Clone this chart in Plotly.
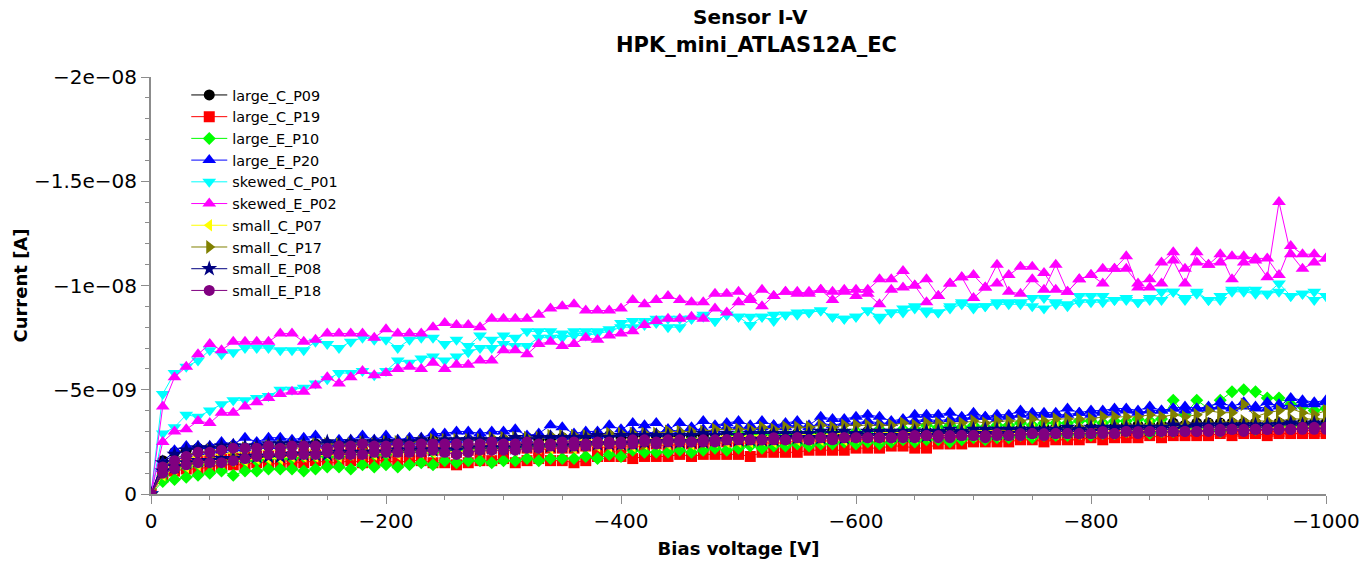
import plotly.graph_objects as go

# Bias voltage grid (V), ramp from 0 to -1000 V in 10 V steps
volts = [-10 * i for i in range(101)]

# Leakage current magnitudes in units of 1e-10 A, on the voltage grid.
# "_up" = ramp towards -1000 V, "_down" = ramp back to 0 V (same grid order).
large_C_P09_up = [0, 16, 20, 21, 22, 22, 22, 23, 22, 23, 23,
                  23, 24, 23, 24, 24, 23, 24, 24, 25, 25,
                  24, 25, 25, 26, 25, 25, 26, 26, 25, 26,
                  26, 27, 26, 26, 27, 26, 27, 27, 28, 27,
                  27, 28, 28, 27, 28, 28, 28, 29, 28, 28,
                  28, 29, 29, 28, 29, 29, 29, 30, 29, 29,
                  30, 30, 29, 30, 30, 30, 31, 30, 31, 31,
                  31, 31, 32, 31, 31, 32, 32, 32, 31, 32,
                  32, 32, 33, 32, 33, 33, 34, 33, 34, 34,
                  34, 33, 34, 34, 33, 34, 34, 34, 33, 34]
large_C_P09_down = [0, 11, 13, 14, 15, 15, 16, 17, 17, 17, 18,
                    18, 19, 19, 18, 19, 20, 20, 21, 20, 21,
                    21, 21, 22, 22, 21, 22, 22, 23, 23, 23,
                    23, 24, 23, 24, 24, 24, 25, 24, 25, 25,
                    25, 26, 25, 26, 26, 26, 27, 26, 26, 27,
                    27, 27, 28, 27, 28, 28, 28, 28, 29, 28,
                    29, 29, 29, 30, 29, 29, 30, 30, 30, 30,
                    30, 31, 31, 30, 31, 31, 31, 32, 31, 32,
                    32, 32, 32, 33, 32, 32, 33, 33, 33, 33,
                    33, 34, 33, 33, 33, 34, 33, 33, 34, 33]

large_C_P19_up = [0, 8, 11, 12, 12, 13, 14, 14, 14, 15, 15,
                  14, 15, 15, 16, 15, 15, 16, 15, 16, 16,
                  15, 16, 16, 15, 15, 14, 15, 16, 16, 17,
                  15, 16, 17, 16, 16, 15, 16, 18, 18, 18,
                  17, 18, 18, 18, 19, 18, 19, 19, 19, 19,
                  18, 20, 20, 20, 20, 21, 21, 21, 21, 22,
                  22, 22, 23, 23, 22, 22, 24, 24, 24, 25,
                  25, 25, 25, 26, 26, 25, 26, 26, 26, 27,
                  26, 27, 27, 27, 28, 27, 28, 28, 28, 28,
                  29, 28, 29, 29, 28, 29, 29, 29, 29, 29]
large_C_P19_down = [0, 10, 13, 15, 16, 16, 17, 17, 18, 18, 18,
                    19, 18, 19, 19, 20, 19, 20, 20, 19, 20,
                    20, 21, 20, 21, 21, 20, 21, 21, 22, 21,
                    22, 22, 21, 22, 22, 22, 23, 23, 22, 23,
                    23, 23, 24, 23, 24, 24, 24, 24, 25, 24,
                    25, 25, 24, 25, 25, 26, 25, 26, 26, 26,
                    26, 27, 26, 27, 27, 26, 27, 27, 27, 28,
                    27, 28, 28, 28, 28, 28, 28, 29, 28, 29,
                    29, 29, 29, 29, 30, 29, 30, 30, 30, 30,
                    30, 30, 30, 31, 30, 30, 31, 31, 30, 30]

large_E_P10_up = [0, 6, 7, 8, 9, 10, 11, 9, 11, 11, 12,
                  12, 12, 11, 12, 13, 13, 12, 14, 13, 14,
                  13, 14, 15, 14, 16, 15, 16, 16, 15, 16,
                  16, 17, 16, 17, 17, 17, 18, 17, 19, 18,
                  21, 20, 20, 20, 21, 20, 21, 22, 21, 22,
                  23, 22, 23, 23, 24, 23, 24, 24, 25, 24,
                  25, 24, 25, 26, 25, 26, 26, 25, 26, 27,
                  26, 27, 27, 28, 27, 28, 28, 28, 29, 28,
                  29, 29, 30, 30, 29, 30, 30, 32, 31, 31,
                  30, 32, 32, 31, 33, 32, 33, 32, 32, 33]
large_E_P10_down = [0, 9, 12, 13, 14, 15, 15, 16, 16, 16, 17,
                    17, 17, 18, 18, 18, 18, 19, 19, 19, 19,
                    20, 20, 20, 20, 21, 21, 21, 21, 22, 22,
                    22, 22, 23, 23, 23, 23, 24, 24, 24, 24,
                    25, 25, 25, 26, 26, 26, 26, 27, 27, 29,
                    28, 29, 28, 29, 29, 29, 30, 29, 30, 30,
                    30, 31, 30, 31, 31, 33, 32, 33, 32, 33,
                    32, 33, 33, 34, 33, 34, 34, 34, 35, 35,
                    34, 35, 35, 36, 35, 36, 45, 38, 45, 41,
                    45, 49, 50, 49, 46, 46, 43, 42, 40, 41]

large_E_P20_up = [0, 15, 21, 23, 23, 23, 25, 24, 27, 25, 27,
                  27, 26, 27, 28, 25, 26, 26, 28, 26, 28,
                  26, 27, 27, 29, 29, 30, 30, 29, 30, 30,
                  31, 28, 29, 33, 32, 29, 30, 30, 33, 31,
                  34, 33, 34, 31, 34, 32, 35, 33, 34, 35,
                  33, 35, 33, 34, 35, 33, 37, 36, 36, 37,
                  38, 37, 35, 36, 38, 38, 38, 39, 37, 39,
                  37, 38, 38, 40, 39, 39, 39, 41, 39, 40,
                  40, 41, 41, 40, 42, 40, 41, 42, 41, 42,
                  44, 42, 44, 41, 44, 42, 46, 45, 44, 45]
large_E_P20_down = [0, 12, 17, 19, 20, 20, 21, 22, 22, 23, 23,
                    23, 23, 24, 24, 23, 24, 24, 25, 24, 25,
                    25, 24, 25, 26, 26, 26, 27, 27, 26, 27,
                    27, 26, 28, 28, 27, 28, 29, 28, 29, 29,
                    30, 30, 29, 31, 30, 31, 31, 30, 32, 32,
                    31, 32, 33, 32, 33, 32, 34, 33, 34, 34,
                    35, 34, 34, 35, 35, 36, 35, 36, 36, 37,
                    37, 36, 37, 38, 37, 38, 38, 38, 39, 38,
                    39, 39, 40, 39, 40, 40, 41, 40, 41, 41,
                    42, 41, 42, 42, 41, 43, 42, 43, 43, 44]

skewed_C_P01_up = [0, 29, 32, 38, 37, 40, 43, 45, 45, 46, 47,
                   50, 50, 51, 53, 55, 58, 58, 59, 57, 59,
                   64, 63, 65, 66, 64, 66, 68, 70, 70, 72,
                   71, 71, 75, 75, 75, 76, 76, 77, 78, 80,
                   80, 81, 82, 80, 80, 84, 85, 83, 86, 85,
                   81, 85, 83, 86, 86, 87, 88, 85, 84, 85,
                   88, 85, 87, 87, 89, 88, 87, 89, 91, 89,
                   90, 91, 91, 91, 90, 89, 91, 90, 92, 92,
                   92, 93, 93, 92, 94, 93, 97, 94, 96, 93,
                   95, 97, 97, 96, 96, 97, 95, 96, 93, 95]
skewed_C_P01_down = [0, 48, 58, 61, 64, 69, 67, 68, 70, 70, 70,
                     69, 69, 69, 73, 72, 70, 73, 75, 74, 74,
                     70, 74, 75, 75, 72, 74, 71, 76, 74, 76,
                     75, 78, 78, 78, 77, 78, 78, 78, 79, 82,
                     83, 83, 84, 84, 84, 84, 86, 83, 86, 85,
                     85, 85, 86, 86, 87, 87, 88, 85, 84, 85,
                     88, 84, 87, 89, 90, 87, 87, 90, 92, 90,
                     90, 92, 92, 92, 94, 94, 92, 91, 95, 95,
                     95, 93, 94, 92, 93, 97, 97, 93, 97, 93,
                     93, 98, 98, 98, 96, 101, 95, 96, 97, 95]

skewed_E_P02_up = [0, 25, 30, 31, 35, 34, 39, 39, 42, 44, 46,
                   48, 49, 49, 52, 56, 53, 56, 59, 57, 58,
                   60, 61, 60, 63, 60, 62, 62, 64, 64, 69,
                   69, 67, 72, 73, 71, 72, 75, 74, 76, 77,
                   78, 81, 83, 84, 84, 85, 84, 89, 87, 92,
                   93, 90, 95, 97, 96, 97, 98, 93, 97, 95,
                   96, 91, 98, 99, 100, 92, 95, 101, 104, 94,
                   99, 110, 97, 96, 103, 98, 110, 97, 103, 105,
                   101, 108, 114, 99, 99, 101, 112, 101, 116, 110,
                   115, 103, 111, 112, 104, 140, 115, 108, 111, 113]
skewed_E_P02_down = [0, 42, 56, 61, 67, 72, 69, 73, 73, 73, 73,
                     77, 77, 73, 74, 77, 77, 77, 77, 75, 79,
                     77, 77, 77, 80, 82, 81, 81, 80, 84, 84,
                     84, 84, 86, 89, 90, 91, 88, 88, 88, 89,
                     93, 91, 93, 95, 93, 92, 92, 96, 96, 97,
                     94, 98, 95, 97, 97, 96, 98, 97, 98, 98,
                     98, 103, 103, 107, 100, 103, 95, 101, 104, 105,
                     99, 101, 105, 109, 109, 106, 98, 97, 103, 105,
                     108, 108, 108, 101, 103, 111, 116, 108, 111, 110,
                     111, 114, 114, 113, 113, 105, 119, 115, 115, 113]

small_C_P07_up = [0, 11, 15, 17, 18, 19, 19, 20, 20, 21, 21,
                  21, 22, 22, 21, 22, 22, 23, 23, 22, 23,
                  23, 23, 24, 23, 24, 24, 23, 24, 24, 25,
                  25, 24, 25, 25, 26, 25, 26, 26, 25, 26,
                  26, 27, 26, 27, 27, 26, 27, 27, 28, 27,
                  28, 28, 27, 28, 28, 29, 28, 29, 29, 28,
                  29, 29, 30, 29, 30, 30, 29, 30, 30, 31,
                  30, 31, 31, 30, 31, 31, 32, 31, 31, 32,
                  32, 31, 32, 32, 33, 32, 32, 33, 32, 33,
                  33, 32, 33, 33, 34, 33, 33, 34, 33, 33]
small_C_P07_down = [0, 9, 12, 13, 14, 15, 15, 16, 16, 17, 17,
                    17, 18, 18, 18, 19, 18, 19, 19, 19, 20,
                    19, 20, 20, 20, 21, 20, 21, 21, 21, 22,
                    21, 22, 22, 22, 23, 22, 23, 23, 23, 24,
                    23, 24, 24, 24, 25, 24, 25, 25, 25, 25,
                    25, 26, 25, 26, 26, 26, 26, 27, 26, 27,
                    27, 27, 27, 28, 27, 28, 28, 28, 28, 28,
                    29, 28, 29, 29, 29, 29, 29, 30, 29, 30,
                    30, 30, 30, 30, 31, 30, 31, 31, 31, 31,
                    31, 32, 31, 32, 32, 32, 32, 32, 33, 32]

small_C_P17_up = [0, 13, 17, 19, 20, 21, 21, 22, 22, 22, 23,
                  23, 23, 23, 24, 24, 24, 24, 25, 24, 25,
                  25, 25, 25, 26, 26, 26, 26, 26, 27, 27,
                  27, 27, 27, 28, 28, 28, 28, 28, 29, 29,
                  29, 29, 29, 30, 30, 30, 30, 31, 31, 31,
                  31, 32, 31, 32, 32, 32, 33, 32, 33, 33,
                  33, 33, 33, 34, 33, 34, 34, 34, 34, 35,
                  34, 35, 35, 35, 36, 35, 36, 36, 36, 36,
                  37, 37, 37, 37, 38, 37, 38, 37, 38, 40,
                  39, 39, 43, 37, 39, 40, 41, 39, 38, 40]
small_C_P17_down = [0, 10, 14, 15, 16, 17, 17, 18, 18, 19, 19,
                    19, 19, 20, 20, 20, 20, 20, 21, 21, 21,
                    21, 21, 21, 22, 22, 22, 22, 22, 22, 22,
                    23, 23, 22, 23, 23, 23, 23, 24, 24, 24,
                    24, 24, 25, 25, 25, 25, 25, 26, 26, 26,
                    26, 26, 27, 27, 27, 27, 27, 28, 28, 28,
                    28, 28, 29, 29, 29, 29, 29, 30, 30, 30,
                    30, 30, 31, 31, 31, 31, 31, 32, 32, 32,
                    32, 33, 33, 33, 33, 33, 34, 34, 34, 34,
                    34, 35, 35, 35, 35, 35, 36, 36, 36, 36]

small_E_P08_up = [0, 15, 19, 21, 22, 22, 23, 23, 23, 23, 24,
                  24, 24, 24, 24, 25, 24, 25, 25, 25, 25,
                  25, 25, 26, 25, 26, 26, 26, 26, 26, 26,
                  27, 26, 27, 27, 27, 27, 27, 28, 27, 28,
                  28, 28, 28, 28, 28, 28, 29, 28, 29, 28,
                  29, 29, 29, 29, 29, 29, 30, 29, 30, 29,
                  30, 30, 30, 30, 30, 30, 30, 31, 30, 31,
                  31, 31, 31, 31, 31, 31, 31, 32, 31, 32,
                  32, 32, 32, 32, 32, 32, 33, 32, 33, 33,
                  33, 33, 33, 33, 33, 33, 34, 33, 34, 33]
small_E_P08_down = [0, 11, 13, 15, 16, 16, 17, 17, 18, 18, 18,
                    18, 19, 19, 19, 19, 20, 20, 20, 20, 20,
                    21, 21, 21, 21, 21, 21, 22, 22, 22, 22,
                    22, 23, 23, 23, 23, 23, 24, 24, 24, 24,
                    24, 25, 25, 25, 25, 25, 25, 26, 26, 26,
                    26, 26, 26, 27, 27, 27, 27, 27, 27, 28,
                    28, 28, 28, 28, 28, 28, 29, 29, 29, 29,
                    29, 29, 29, 30, 30, 30, 30, 30, 30, 30,
                    31, 31, 31, 31, 31, 31, 31, 32, 32, 32,
                    32, 32, 32, 32, 32, 33, 33, 33, 33, 33]

small_E_P18_up = [0, 13, 16, 18, 20, 20, 21, 22, 22, 22, 23,
                  22, 23, 23, 23, 22, 23, 23, 24, 23, 23,
                  24, 23, 24, 24, 24, 24, 24, 24, 25, 24,
                  24, 25, 24, 24, 25, 25, 24, 25, 25, 25,
                  26, 26, 25, 26, 26, 25, 26, 26, 26, 27,
                  26, 26, 27, 26, 27, 26, 27, 26, 27, 27,
                  27, 27, 27, 27, 27, 28, 27, 27, 28, 28,
                  27, 28, 28, 28, 29, 28, 29, 29, 29, 29,
                  29, 29, 30, 29, 30, 30, 30, 30, 30, 30,
                  30, 31, 30, 31, 31, 31, 31, 32, 31, 32]
small_E_P18_down = [0, 10, 12, 14, 15, 15, 15, 16, 17, 18, 19,
                    19, 19, 19, 19, 20, 19, 19, 19, 20, 20,
                    20, 20, 20, 21, 20, 19, 20, 21, 21, 21,
                    21, 22, 22, 23, 22, 23, 23, 24, 24, 24,
                    24, 25, 24, 25, 25, 25, 25, 25, 26, 26,
                    26, 26, 26, 26, 27, 26, 27, 27, 27, 27,
                    27, 27, 27, 28, 28, 28, 28, 28, 28, 28,
                    28, 29, 28, 29, 29, 29, 29, 29, 29, 29,
                    30, 29, 30, 30, 30, 30, 30, 30, 30, 31,
                    31, 31, 31, 31, 31, 31, 31, 31, 32, 31]

series_names = ["large_C_P09", "large_C_P19", "large_E_P10", "large_E_P20",
                "skewed_C_P01", "skewed_E_P02", "small_C_P07", "small_C_P17",
                "small_E_P08", "small_E_P18"]
series_up = [large_C_P09_up, large_C_P19_up, large_E_P10_up, large_E_P20_up,
             skewed_C_P01_up, skewed_E_P02_up, small_C_P07_up, small_C_P17_up,
             small_E_P08_up, small_E_P18_up]
series_down = [large_C_P09_down, large_C_P19_down, large_E_P10_down, large_E_P20_down,
               skewed_C_P01_down, skewed_E_P02_down, small_C_P07_down, small_C_P17_down,
               small_E_P08_down, small_E_P18_down]

colors = ["#000000", "#ff0000", "#00ff00", "#0000ff", "#00ffff",
          "#ff00ff", "#ffff00", "#808000", "#000080", "#800080"]
symbols = ["circle", "square", "diamond", "triangle-up", "triangle-down",
           "triangle-up", "triangle-left", "triangle-right", "star", "circle"]
sizes = [11, 11, 10, 12, 12, 12, 11, 12, 12, 11]

x_tickvals = [0, -200, -400, -600, -800, -1000]
x_ticktext = ["0", "\u2212200", "\u2212400", "\u2212600", "\u2212800", "\u22121000"]
y_tickvals = [0, -5e-09, -1e-08, -1.5e-08, -2e-08]
y_ticktext = ["0", "\u22125e\u221209", "\u22121e\u221208", "\u22121.5e\u221208", "\u22122e\u221208"]

SCALE = 1e-10
FONT = "DejaVu Sans"

fig = go.Figure()
for name, up, down, col, sym, sz in zip(series_names, series_up, series_down,
                                        colors, symbols, sizes):
    assert len(up) == len(volts) and len(down) == len(volts), name
    xs = volts + volts[::-1]
    ys = [-v * SCALE for v in up] + [-v * SCALE for v in down[::-1]]
    fig.add_trace(go.Scatter(
        x=xs, y=ys, name=name, mode="lines+markers",
        line=dict(color=col, width=1),
        marker=dict(color=col, symbol=sym, size=sz, line=dict(width=0)),
    ))

axis_common = dict(
    showline=True, linecolor="#8c8c8c", linewidth=2,
    ticks="outside", ticklen=8, tickcolor="#8c8c8c", tickwidth=1,
    showgrid=False, zeroline=False, mirror=False, automargin=False,
    tickfont=dict(family=FONT, size=20, color="black"),
)

fig.update_layout(
    width=1363, height=563,
    margin=dict(l=151, r=37, t=77, b=69),
    paper_bgcolor="white", plot_bgcolor="white",
    xaxis=dict(range=[0, -1000], tickvals=x_tickvals, ticktext=x_ticktext,
               minor=dict(dtick=50, ticklen=4, ticks="outside", tickcolor="#8c8c8c"),
               title=dict(text="<b>Bias voltage [V]</b>", standoff=10,
                          font=dict(family=FONT, size=18, color="black")),
               **axis_common),
    yaxis=dict(range=[0, -2e-08], tickvals=y_tickvals, ticktext=y_ticktext,
               minor=dict(dtick=1e-09, ticklen=4, ticks="outside", tickcolor="#8c8c8c"),
               title=dict(text="<b>Current [A]</b>", standoff=2,
                          font=dict(family=FONT, size=18, color="black")),
               **axis_common),
    legend=dict(x=0.03, y=0.995, xanchor="left", yanchor="top",
                bgcolor="rgba(0,0,0,0)", borderwidth=0,
                font=dict(family=FONT, size=14.4, color="black"),
                itemwidth=36, tracegroupgap=0),
    showlegend=True,
    annotations=[
        dict(text="<b>Sensor I-V</b>", xref="paper", yref="paper",
             x=0.51, y=1.143, xanchor="center", yanchor="middle", showarrow=False,
             font=dict(family=FONT, size=20, color="black")),
        dict(text="<b>HPK_mini_ATLAS12A_EC</b>", xref="paper", yref="paper",
             x=0.515, y=1.076, xanchor="center", yanchor="middle", showarrow=False,
             font=dict(family=FONT, size=21, color="black")),
    ],
)

fig.write_html("out.html")
